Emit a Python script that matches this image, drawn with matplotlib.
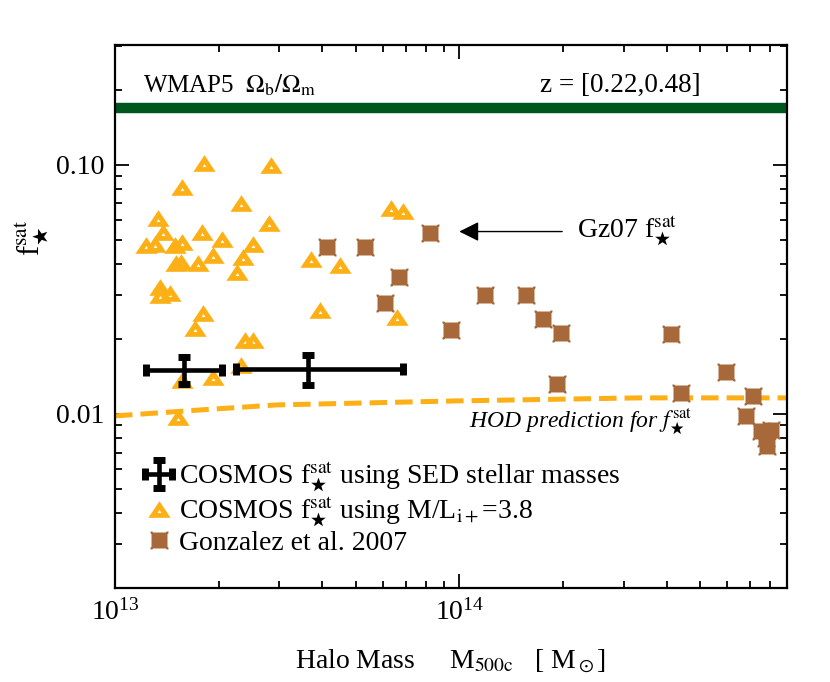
import numpy as np
import matplotlib
matplotlib.use("Agg")
import matplotlib.pyplot as plt
from matplotlib.path import Path
from matplotlib.ticker import LogLocator, FixedLocator, FixedFormatter, NullFormatter

plt.rcParams['font.family'] = ['Liberation Serif', 'DejaVu Serif']
plt.rcParams['mathtext.fontset'] = 'stix'

# COSMOS f*sat using M/L_i+ = 3.8 (orange triangles)
ml_mass = [1.81e13, 2.83e13, 1.57e13, 2.32e13, 1.33e13, 2.81e13, 6.35e13, 6.84e13,
           1.38e13, 1.79e13, 2.04e13, 1.23e13, 1.31e13, 1.49e13, 1.57e13, 2.51e13,
           1.92e13, 2.35e13, 1.50e13, 1.56e13, 1.74e13, 2.26e13, 3.70e13, 4.49e13,
           1.35e13, 1.35e13, 1.44e13, 1.80e13, 1.71e13, 3.95e13, 6.61e13, 2.38e13,
           2.51e13, 2.32e13, 1.57e13, 1.92e13, 1.52e13]
ml_fsat = [0.102, 0.100, 0.0816, 0.0704, 0.0612, 0.0585, 0.0672, 0.0654,
           0.0538, 0.0538, 0.0504, 0.0477, 0.0482, 0.0477, 0.0491, 0.0482,
           0.0435, 0.0427, 0.0404, 0.0408, 0.0404, 0.0372, 0.0419, 0.0397,
           0.0324, 0.0301, 0.0306, 0.0255, 0.0222, 0.0262, 0.0245, 0.0198,
           0.0198, 0.0157, 0.0137, 0.0141, 0.00973]

# Gonzalez et al. 2007 (brown squares)
gz_mass = [4.14e13, 5.34e13, 8.24e13, 6.70e13, 6.10e13, 9.48e13, 1.19e14, 1.56e14,
           1.75e14, 1.98e14, 1.92e14, 4.11e14, 4.40e14, 5.94e14, 7.11e14, 6.79e14,
           7.50e14, 8.02e14, 7.76e14, 7.81e14]
gz_fsat = [0.0469, 0.0469, 0.0533, 0.0355, 0.0279, 0.0217, 0.0301, 0.0301,
           0.0241, 0.0211, 0.0132, 0.0210, 0.0121, 0.0148, 0.0118, 0.00982,
           0.00855, 0.00863, 0.00801, 0.00744]

# COSMOS f*sat using SED stellar masses (error bars)
sed_mass = [1.585e13, 3.63e13]
sed_mass_lo = [1.23e13, 2.24e13]
sed_mass_hi = [2.04e13, 6.84e13]
sed_fsat = [0.01503, 0.01517]
sed_fsat_lo = [0.01319, 0.01307]
sed_fsat_hi = [0.01694, 0.01726]

# HOD prediction curve
hod_mass = [1e13, 1.76e13, 2.95e13, 5.37e13, 9.8e13, 3.33e14, 9.0e14]
hod_fsat = [0.00982, 0.01037, 0.01087, 0.01107, 0.01128, 0.0116, 0.0116]

wmap5_fb = 0.17

orange = '#FDB016'
brown = '#A8693A'
green = '#00561F'

# triangle with a small hole
tri_verts = [(-1, -0.75), (1, -0.75), (0, 0.75), (-1, -0.75),
             (0, -0.04), (0.17, -0.32), (-0.17, -0.32), (0, -0.04)]
tri_codes = [Path.MOVETO, Path.LINETO, Path.LINETO, Path.CLOSEPOLY] * 2
tri_marker = Path(tri_verts, tri_codes)

# square with small corner nubs
sq_verts = [(-0.82, -0.82), (0.82, -0.82), (0.82, 0.82), (-0.82, 0.82), (-0.82, -0.82)]
sq_codes = [Path.MOVETO, Path.LINETO, Path.LINETO, Path.LINETO, Path.CLOSEPOLY]
for cx, cy in [(-0.86, -0.86), (0.86, -0.86), (0.86, 0.86), (-0.86, 0.86)]:
    s = 0.13
    sq_verts += [(cx - s, cy - s), (cx + s, cy - s), (cx + s, cy + s), (cx - s, cy + s), (cx - s, cy - s)]
    sq_codes += [Path.MOVETO, Path.LINETO, Path.LINETO, Path.LINETO, Path.CLOSEPOLY]
sq_marker = Path(sq_verts, sq_codes)

fig = plt.figure(figsize=(8.3, 6.82), dpi=100)
ax = fig.add_axes([115 / 830, 1 - 588 / 682, 672 / 830, 543 / 682])
ax.set_xscale('log')
ax.set_yscale('log')
ax.set_xlim(1e13, 8.95e14)
ax.set_ylim(0.002, 0.303)

ax.axhline(wmap5_fb, color=green, lw=7.5, zorder=2)

ax.plot(hod_mass, hod_fsat, color=orange, lw=3.6, ls=(0, (3.5, 1.6)), zorder=2)

h_ml, = ax.plot(ml_mass, ml_fsat, ls='none', marker=tri_marker, ms=16,
                mfc=orange, mec='none', zorder=3)
h_gz, = ax.plot(gz_mass, gz_fsat, ls='none', marker=sq_marker, ms=13.5,
                mfc=brown, mec='none', zorder=4)

xerr = [np.array(sed_mass) - np.array(sed_mass_lo), np.array(sed_mass_hi) - np.array(sed_mass)]
yerr = [np.array(sed_fsat) - np.array(sed_fsat_lo), np.array(sed_fsat_hi) - np.array(sed_fsat)]
h_sed = ax.errorbar(sed_mass, sed_fsat, xerr=xerr, yerr=yerr, fmt='none', ecolor='k',
                    elinewidth=3.3, capsize=4, capthick=5, zorder=5)

# text annotations
ax.text(0.042, 0.926, r"WMAP5  $\Omega_{\rm b}/\Omega_{\rm m}$", transform=ax.transAxes,
        fontsize=18, va='center', ha='left')
ax.text(0.871, 0.926, "z = [0.22,0.48]", transform=ax.transAxes,
        fontsize=19.5, va='center', ha='right')
ax.annotate("", xy=(1.0e14, 0.054), xytext=(1.99e14, 0.054),
            arrowprops=dict(arrowstyle='-|>', color='k', lw=1, mutation_scale=30,
                            shrinkA=0, shrinkB=0))
ax.text(2.2e14, 0.054, r"Gz07 f$_\bigstar^{\rm sat}$", fontsize=20, va='center', ha='left')
ax.text(1.07e14, 0.0093, r"HOD prediction for $f_\bigstar^{\rm sat}$", fontsize=17,
        style='italic', va='center', ha='left')

# ticks
ax.tick_params(which='both', direction='in', top=True, right=True, width=1.3)
ax.tick_params(which='major', length=10, labelsize=20, pad=8)
ax.tick_params(which='minor', length=5)
ax.yaxis.set_major_locator(FixedLocator([0.01, 0.1]))
ax.yaxis.set_major_formatter(FixedFormatter(["0.01", "0.10"]))
ax.yaxis.set_minor_locator(LogLocator(base=10, subs=np.arange(2, 10)))
ax.yaxis.set_minor_formatter(NullFormatter())
ax.xaxis.set_major_locator(LogLocator(base=10))
ax.xaxis.set_minor_locator(LogLocator(base=10, subs=np.arange(2, 10)))
ax.xaxis.set_minor_formatter(NullFormatter())
for sp in ax.spines.values():
    sp.set_linewidth(1.6)

ax.set_xlabel(r"Halo Mass     M$_{\rm 500c}$   [ M$_\odot$]", fontsize=20)
ax.xaxis.set_label_coords(0.5, -0.11)
ax.set_ylabel(r"f$_\bigstar^{\rm sat}$", fontsize=22)
ax.yaxis.set_label_coords(-0.095, 0.645)

ax.legend([h_sed, h_ml, h_gz],
          [r"COSMOS f$_\bigstar^{\rm sat}$ using SED stellar masses",
           r"COSMOS f$_\bigstar^{\rm sat}$ using M/L$_{\rm i+}$=3.8",
           "Gonzalez et al. 2007"],
          loc='upper left', bbox_to_anchor=(0.04, 0.235), frameon=False,
          fontsize=20, handlelength=1.2, handletextpad=0.15, labelspacing=0.05,
          borderpad=0, borderaxespad=0)

fig.savefig("out.png", dpi=100)
